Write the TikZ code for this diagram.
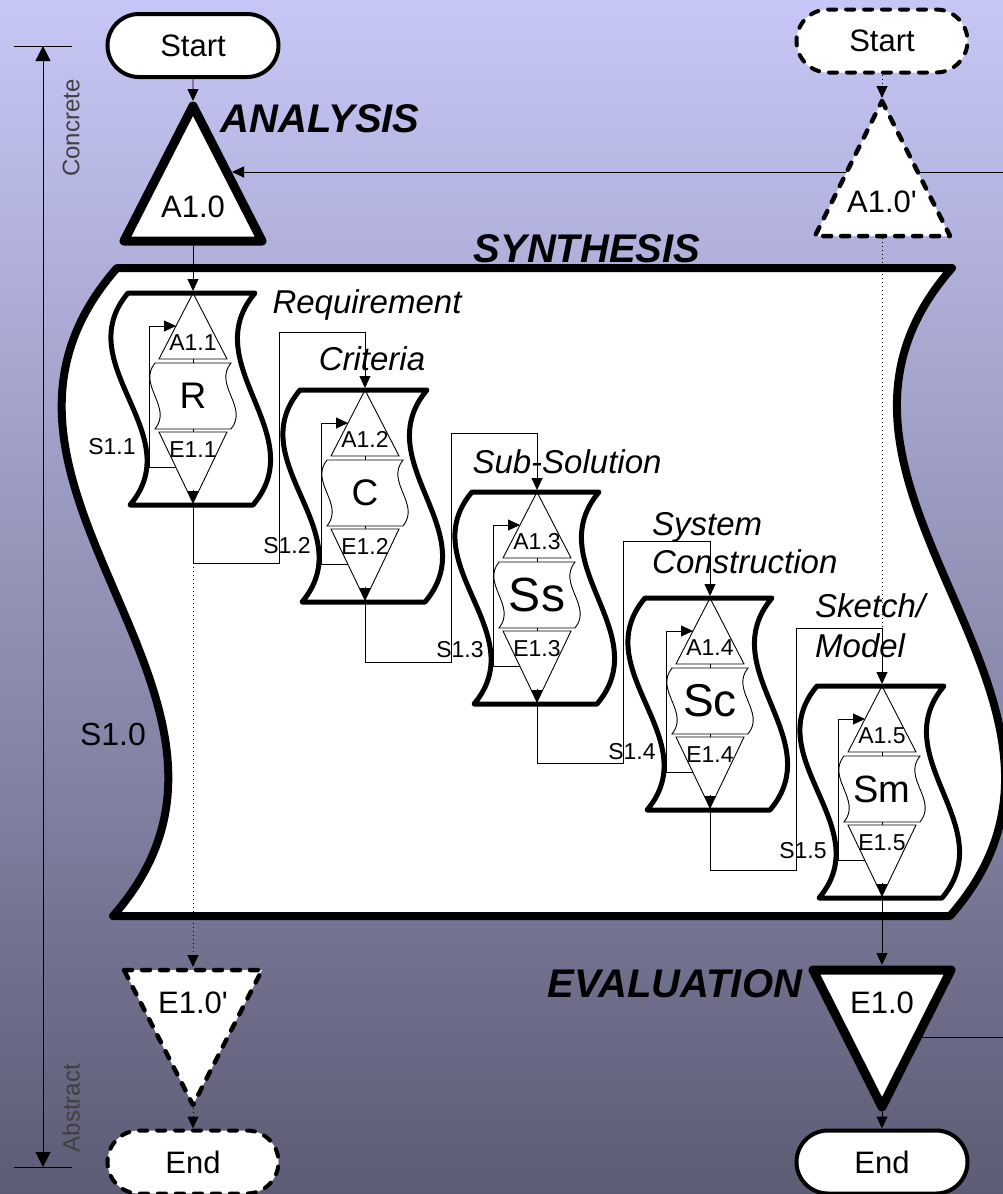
\documentclass[tikz,border=0pt]{standalone}
\usepackage{fontspec}
\setmainfont{Liberation Sans}
\usetikzlibrary{arrows.meta,shapes.misc}

\definecolor{bgtop}{RGB}{199,199,247}
\definecolor{bgmid}{RGB}{155,155,200}
\definecolor{bgbot}{RGB}{92,92,117}

\begin{document}
\begin{tikzpicture}[
    x=1pt, y=-1pt,
    term/.style={rounded rectangle, draw, fill=white, line width=4pt, minimum width=171pt, minimum height=63pt, inner sep=0pt, font=\fontsize{31}{36}\selectfont},
    termdash/.style={term, dash pattern=on 8pt off 10pt, line cap=round},
    gate/.style={draw, fill=white, line width=9pt, line join=round},
    gatedash/.style={draw, fill=white, line width=4.5pt, line join=round, dash pattern=on 8pt off 10pt, line cap=round},
    gatetext/.style={anchor=base, inner sep=0pt, font=\fontsize{31}{36}\selectfont},
    synth/.style={draw, fill=white, line width=8pt, line join=round},
    modbox/.style={draw, fill=white, line width=5pt, line join=round},
    hair/.style={line width=0.9pt},
    flow/.style={hair, -{Triangle[length=12pt,width=11pt]}},
    dotline/.style={line width=1pt, dash pattern=on 1pt off 3pt},
    dotflow/.style={dotline, -{Triangle[length=12pt,width=11pt]}},
    axis/.style={line width=1pt, {Triangle[length=15pt,width=15pt]}-{Triangle[length=15pt,width=15pt]}},
    axislabel/.style={rotate=90, inner sep=0pt, text=black!75, font=\fontsize{24}{28}\selectfont},
    phase/.style={anchor=base, inner sep=0pt, font=\fontsize{40}{46}\selectfont\bfseries\itshape},
    steplabel/.style={anchor=base, inner sep=0pt, font=\fontsize{33}{38}\selectfont\itshape},
    tag/.style={anchor=base, inner sep=0pt, font=\fontsize{23}{27}\selectfont},
    minilabel/.style={anchor=base, inner sep=0pt, font=\fontsize{23}{27}\selectfont},
    letter/.style={inner sep=0pt},
    pics/module/.style n args={3}{code={
        \draw[modbox] (-65,0) -- (62,0) .. controls (2,71) and (120,141) .. (60,212)
            -- (-63,212) .. controls (-3,141) and (-125,71) .. cycle;
        \draw[hair] (0,0) -- (34,66) -- (-34,66) -- cycle;
        \draw[hair] (-38,70) -- (38,70) .. controls (20,92) and (56,114) .. (38,136)
            -- (-38,136) .. controls (-20,114) and (-56,92) .. cycle;
        \draw[hair] (-34,139) -- (34,139) -- (0,210) -- cycle;
        \draw[hair] (0,66) -- (0,70) (0,136) -- (0,139);
        \coordinate (-top) at (0,-2);
        \coordinate (-bot) at (0,212);
        \coordinate (-in) at (-17,33);
        \coordinate (-out) at (-17,174);
        \coordinate (-apex) at (0,210);
        \draw[flow] (-out) -- ++(-27,0) |- (-in);
        \draw[flow] (0,197) -- (-apex);
        \node[minilabel] (-a) at (0,57) {A1.#1};
        \node[letter, font=\fontsize{#3}{#3}\selectfont] (-x) at (0,103) {#2};
        \node[minilabel] (-e) at (0,164) {E1.#1};
    }}
]
\shade[top color=bgtop, middle color=bgmid, bottom color=bgbot] (0,0) rectangle (1003,1194);
\useasboundingbox (0,0) rectangle (1003,1194);

\coordinate (abs-top) at (43,46);
\coordinate (abs-bot) at (43,1167);
\draw[axis] (abs-top) -- (abs-bot);
\draw[hair] (14,46) -- (72,46) (14,1167) -- (72,1167);
\node[axislabel] (concrete) at (71,128) {Concrete};
\node[axislabel] (abstract) at (71,1108) {Abstract};

\draw[synth] (117,268) -- (952,268) .. controls (762,484) and (1140,700) .. (950,916)
    -- (113,916) .. controls (303,700) and (-73,484) .. cycle;

\pic (m1) at (193,293) {module={1}{R}{37}};
\pic (m2) at (365,390) {module={2}{C}{37}};
\pic (m3) at (537,492) {module={3}{Ss}{48}};
\pic (m4) at (710,598) {module={4}{Sc}{46}};
\pic (m5) at (882,686) {module={5}{Sm}{38}};

\coordinate (drop1) at (193,563);
\coordinate (turn12) at (279,332);
\coordinate (drop2) at (365,662);
\coordinate (turn23) at (451,433);
\coordinate (drop3) at (537,763);
\coordinate (turn34) at (623,541);
\coordinate (drop4) at (710,870);
\coordinate (turn45) at (796,628);
\coordinate (join5) at (882,628);
\draw[flow] (m1-bot) -- (drop1) -| (turn12) -| (m2-top);
\draw[flow] (m2-bot) -- (drop2) -| (turn23) -| (m3-top);
\draw[flow] (m3-bot) -- (drop3) -| (turn34) -| (m4-top);
\draw[flow] (m4-bot) -- (drop4) -| (turn45) -| (m5-top);

\coordinate (fb-in) at (1003,172);
\coordinate (a10-side) at (232,172);
\coordinate (fb-out) at (1003,1037);
\coordinate (e10-side) at (920,1037);
\draw[flow] (fb-in) -- (a10-side);
\draw[hair] (e10-side) -- (fb-out);

\draw[gate] (193,106) -- (262,241) -- (124,241) -- cycle;
\coordinate (a10-apex) at (193,101);
\coordinate (a10-base) at (193,246);
\node[gatetext] (a10) at (193,217) {A1.0};

\draw[gatedash] (882,101) -- (950,236) -- (815,236) -- cycle;
\coordinate (a10p-apex) at (882,98);
\coordinate (a10p-base) at (882,238);
\node[gatetext] (a10p) at (882,212) {A1.0\textquotesingle};

\draw[gatedash] (124,970) -- (262,970) -- (193,1105) -- cycle;
\coordinate (e10p-top) at (193,967);
\coordinate (e10p-apex) at (193,1108);
\node[gatetext] (e10p) at (193,1013) {E1.0\textquotesingle};

\draw[gate] (813,970) -- (951,970) -- (882,1107) -- cycle;
\coordinate (e10-top) at (882,965);
\coordinate (e10-apex) at (882,1112);
\node[gatetext] (e10) at (882,1013) {E1.0};

\node[term] (start) at (193,45.5) {Start};
\node[termdash] (startp) at (882,41) {Start};
\node[termdash] (endp) at (193,1162) {End};
\node[term] (end) at (882,1162) {End};

\draw[flow] (start) -- (a10-apex);
\draw[flow] (a10-base) -- (m1-top);
\draw[dotflow] (startp) -- (a10p-apex);
\draw[dotline] (a10p-base) -- (join5);
\draw[dotflow] (drop1) -- (e10p-top);
\draw[dotflow] (e10p-apex) -- (endp);
\draw[flow] (m5-bot) -- (e10-top);
\draw[flow] (e10-apex) -- (end);

\node[phase] (analysis) at (320,132) {ANALYSIS};
\node[phase] (synthesis) at (587,262) {SYNTHESIS};
\node[phase] (evaluation) at (675,997) {EVALUATION};

\node[steplabel] (requirement) at (367,313) {Requirement};
\node[steplabel] (criteria) at (372,370) {Criteria};
\node[steplabel] (subsolution) at (567,473) {Sub-Solution};
\node[steplabel, anchor=base west] (system) at (652,535) {System};
\node[steplabel, anchor=base west] (construction) at (652,573) {Construction};
\node[steplabel, anchor=base west] (sketch) at (815,617) {Sketch/};
\node[steplabel, anchor=base west] (model) at (815,657) {Model};

\node[tag, font=\fontsize{32}{38}\selectfont] (s10) at (113,745) {S1.0};
\node[tag] (s11) at (112,454) {S1.1};
\node[tag] (s12) at (287,553) {S1.2};
\node[tag] (s13) at (460,657) {S1.3};
\node[tag] (s14) at (632,759) {S1.4};
\node[tag] (s15) at (803,858) {S1.5};
\end{tikzpicture}
\end{document}
